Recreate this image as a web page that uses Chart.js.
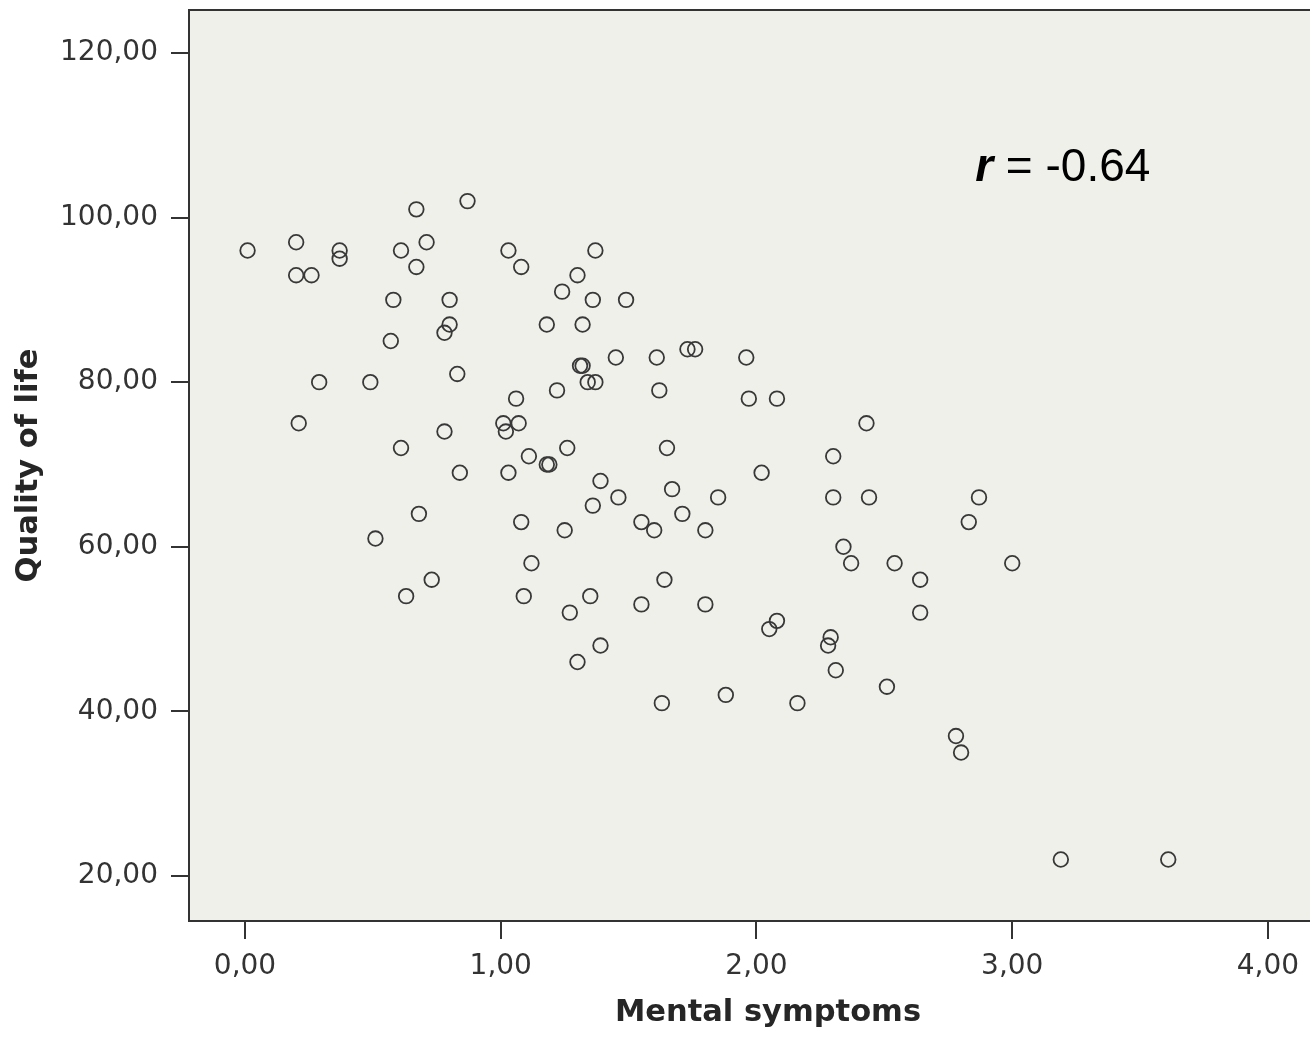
<!DOCTYPE html>
<html>
<head>
<meta charset="utf-8">
<title>Quality of life vs mental symptoms</title>
<script src="https://cdn.jsdelivr.net/npm/chart.js@4.4.0/dist/chart.umd.min.js"></script>
<style>
  html, body { margin: 0; padding: 0; background: #fff; overflow: hidden; }
  #wrap { width: 1310px; height: 1038px; overflow: hidden; }
  canvas { display: block; }
</style>
</head>
<body>
<div id="wrap"><canvas id="scatter" width="1350" height="1038"></canvas></div>
<script>
  // mental symptoms score (x) and quality of life (y), one entry per respondent
  const mentalSymptoms = [
    0.01, 0.20, 0.20, 0.26, 0.37, 0.37, 0.29, 0.21, 0.49, 0.58, 0.57, 0.61, 0.67, 0.67,
    0.71, 0.87, 0.80, 0.80, 0.78, 0.83, 0.78, 0.61, 0.84, 0.51, 0.68, 0.73, 0.63,
    1.03, 1.08, 1.30, 1.24, 1.37, 1.36, 1.49, 1.18, 1.32, 1.31, 1.32, 1.34, 1.37, 1.22,
    1.45, 1.61, 1.62, 1.73, 1.76, 1.96, 1.97, 2.08, 1.06, 1.01, 1.02, 1.07, 1.11, 1.18,
    1.19, 1.26, 1.03, 1.08, 1.12, 1.09, 1.25, 1.27, 1.35, 1.30, 1.39, 1.39, 1.36, 1.46,
    1.55, 1.60, 1.65, 1.67, 1.71, 1.80, 1.85, 1.55, 1.64, 1.80, 1.63, 1.88, 2.16,
    2.02, 2.30, 2.30, 2.43, 2.44, 2.34, 2.37, 2.54, 2.64, 2.64, 2.08, 2.05, 2.29, 2.28,
    2.31, 2.51, 2.78, 2.80, 2.87, 2.83, 3.00, 3.19, 3.61
  ];
  const qualityOfLife = [
    96, 97, 93, 93, 96, 95, 80, 75, 80, 90, 85, 96, 94, 101,
    97, 102, 90, 87, 86, 81, 74, 72, 69, 61, 64, 56, 54,
    96, 94, 93, 91, 96, 90, 90, 87, 87, 82, 82, 80, 80, 79,
    83, 83, 79, 84, 84, 83, 78, 78, 78, 75, 74, 75, 71, 70,
    70, 72, 69, 63, 58, 54, 62, 52, 54, 46, 48, 68, 65, 66,
    63, 62, 72, 67, 64, 62, 66, 53, 56, 53, 41, 42, 41,
    69, 71, 66, 75, 66, 60, 58, 58, 56, 52, 51, 50, 49, 48,
    45, 43, 37, 35, 66, 63, 58, 22, 22
  ];

  const xTickValues = [0, 1, 2, 3, 4];
  const xTickLabels = ["0,00", "1,00", "2,00", "3,00", "4,00"];
  const yTickValues = [20, 40, 60, 80, 100, 120];
  const yTickLabels = ["20,00", "40,00", "60,00", "80,00", "100,00", "120,00"];

  const xTitle = "Mental symptoms";
  const yTitle = "Quality of life";
  const rLabel = "r";
  const rValue = " = -0.64";
  const rAt = { x: 2.855, y: 104.5 }; // where the r label starts (data units)

  const AXIS = "#333333";
  const TICK_TEXT = "#333333";
  const TITLE_TEXT = "#262626";
  const PLOT_BG = "#f0f0eb";

  const points = mentalSymptoms.map((x, i) => ({ x, y: qualityOfLife[i] }));

  // fixed axis boxes, no extra room for half labels at the ends
  function fixBox(s, size) {
    if (s.isHorizontal()) s.height = size; else s.width = size;
    s.paddingTop = 0;
    s.paddingBottom = 0;
    s.paddingLeft = 0;
    s.paddingRight = 0;
  }

  /* plot background + top/right edges, drawn like the SPSS frame */
  const plotFrame = {
    id: "plotFrame",
    beforeDraw(chart) {
      const { ctx, chartArea: a } = chart;
      ctx.save();
      ctx.fillStyle = PLOT_BG;
      ctx.fillRect(a.left, a.top, a.right - a.left, a.bottom - a.top);
      ctx.restore();
    },
    afterDraw(chart) {
      const { ctx, chartArea: a } = chart;
      ctx.save();
      ctx.strokeStyle = AXIS;
      ctx.lineWidth = 2;
      ctx.beginPath();
      ctx.moveTo(a.left - 1, a.top);
      ctx.lineTo(a.right, a.top);
      ctx.lineTo(a.right, a.bottom);
      ctx.stroke();
      ctx.restore();
    }
  };

  /* correlation note, "r" in bold italic */
  const corrNote = {
    id: "corrNote",
    afterDatasetsDraw(chart) {
      const { ctx, scales } = chart;
      const px = scales.x.getPixelForValue(rAt.x);
      const py = scales.y.getPixelForValue(rAt.y);
      ctx.save();
      ctx.fillStyle = "#000";
      ctx.textBaseline = "alphabetic";
      ctx.font = "italic bold 46px 'Liberation Sans', Arial, sans-serif";
      ctx.fillText(rLabel, px, py);
      const w = ctx.measureText(rLabel).width;
      ctx.font = "46px 'Liberation Sans', Arial, sans-serif";
      ctx.fillText(rValue, px + w, py);
      ctx.restore();
    }
  };

  new Chart(document.getElementById("scatter"), {
    type: "scatter",
    data: {
      datasets: [{
        data: points,
        pointStyle: "circle",
        pointRadius: 7.3,
        pointHoverRadius: 7.3,
        pointBorderWidth: 1.8,
        borderColor: "#383838",
        backgroundColor: "rgba(0,0,0,0)"
      }]
    },
    options: {
      responsive: false,
      animation: false,
      devicePixelRatio: 1,
      layout: { autoPadding: false, padding: { top: 10, right: 3, left: 0, bottom: 0 } },
      plugins: { legend: { display: false }, tooltip: { enabled: false } },
      scales: {
        x: {
          type: "linear",
          min: -0.219,
          max: 4.309,
          afterBuildTicks: s => { s.ticks = xTickValues.map(v => ({ value: v })); },
          afterFit: s => fixBox(s, 117),
          grid: { drawOnChartArea: false, drawTicks: true, tickLength: 18, color: AXIS, lineWidth: 2 },
          border: { display: true, color: AXIS, width: 2 },
          ticks: {
            autoSkip: false, maxRotation: 0, padding: 11, color: TICK_TEXT,
            font: { family: "'DejaVu Sans'", size: 28 },
            callback: v => xTickLabels[xTickValues.indexOf(v)]
          },
          title: {
            display: true, text: xTitle, color: TITLE_TEXT,
            font: { family: "'DejaVu Sans'", size: 30.5, weight: "bold" },
            padding: { top: 0, bottom: 7 }
          }
        },
        y: {
          type: "linear",
          min: 14.53,
          max: 125.22,
          afterBuildTicks: s => { s.ticks = yTickValues.map(v => ({ value: v })); },
          afterFit: s => fixBox(s, 189),
          grid: { drawOnChartArea: false, drawTicks: true, tickLength: 18, color: AXIS, lineWidth: 2 },
          border: { display: true, color: AXIS, width: 2 },
          ticks: {
            padding: 13, color: TICK_TEXT,
            font: { family: "'DejaVu Sans'", size: 28 },
            callback: v => yTickLabels[yTickValues.indexOf(v)]
          },
          title: {
            display: true, text: yTitle, color: TITLE_TEXT,
            font: { family: "'DejaVu Sans'", size: 30.5, weight: "bold" },
            padding: { top: 11, bottom: 0 }
          }
        }
      }
    },
    plugins: [plotFrame, corrNote]
  });
</script>
</body>
</html>
